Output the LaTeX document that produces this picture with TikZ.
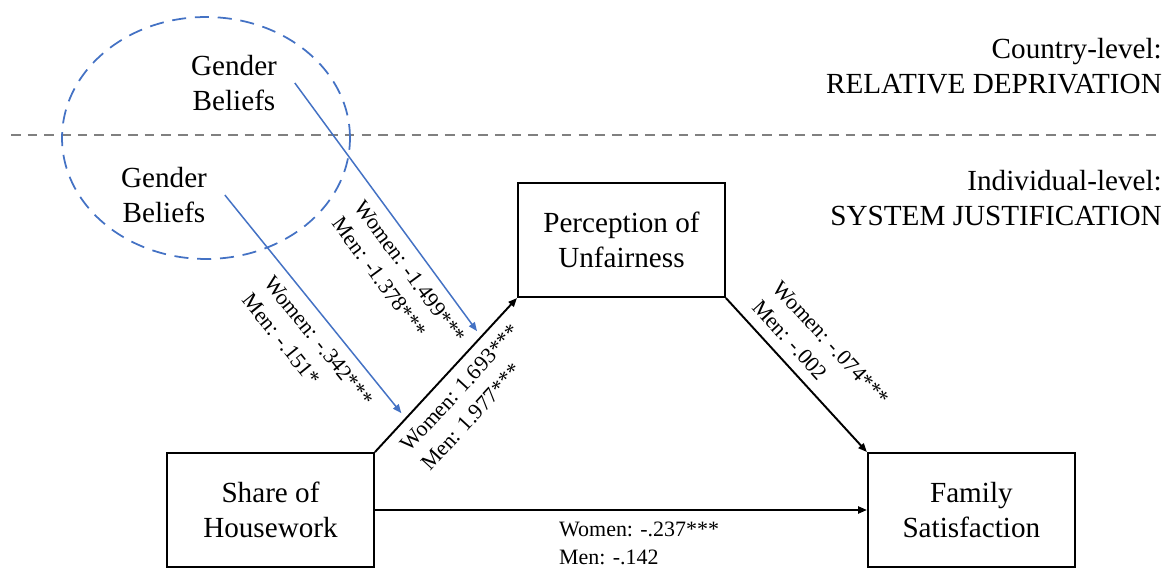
\documentclass[tikz,border=0pt]{standalone}
\usepackage{fontspec}
\setmainfont{Liberation Serif}
\usetikzlibrary{positioning,arrows.meta}

\definecolor{beliefblue}{RGB}{68,114,196}
\definecolor{levelgray}{RGB}{128,128,128}

\begin{document}
\begin{tikzpicture}[
	x=0.02cm, y=-0.02cm,
	on grid,
	auto,
	>={Triangle[length=5pt,width=4pt]},
	box/.style={
		rectangle,
		draw,
		line width=1.1pt,
		minimum width=4.14cm,
		minimum height=2.28cm,
		align=center,
		font=\fontsize{16.6}{20}\selectfont
	},
	belief/.style={
		align=center,
		inner sep=10pt,
		font=\fontsize{16.6}{20}\selectfont
	},
	level/.style={
		anchor=east,
		align=right,
		font=\fontsize{16.6}{20}\selectfont
	},
	lbl/.style={
		sloped,
		align=left,
		text=black,
		inner sep=6pt,
		font=\fontsize{12.5}{16}\selectfont
	},
	link/.style={->, line width=1.1pt},
	moder/.style={->, beliefblue, line width=0.85pt, shorten >=4pt}]

   \useasboundingbox (0,0) rectangle (1168,570);

   % levels
   \draw[levelgray, dash pattern=on 5.5pt off 4pt, line width=0.8pt] (11,135) -- (1160,135);
   \draw[beliefblue, dash pattern=on 8pt off 5pt, line width=1pt] (206,138) ellipse [x radius=2.88cm, y radius=2.42cm];

   \node[level] (country) at (1168,66) {Country-level:\\RELATIVE DEPRIVATION};
   \node[level] (indiv) at (1168,198) {Individual-level:\\SYSTEM JUSTIFICATION};

   \node[belief] (gb_1) at (234,83) {Gender\\Beliefs};
   \node[belief] (gb_2) at (164,195) {Gender\\Beliefs};

   \node[box] (share) at (270.5,510) {Share of\\Housework};
   \node[box, above right=5.4cm and 7.02cm of share] (unfair) {Perception of\\Unfairness};
   \node[box, right=14.02cm of share] (famsat) {Family\\Satisfaction};

   \draw[link] (share.north east) -- node[lbl, swap] (l_1) {Women: 1.693***\\Men: 1.977***}
    coordinate[pos=0.748] (m_1) coordinate[pos=0.217] (m_2) (unfair.south west);
   \path[link]
    (unfair.south east) edge node[lbl] (l_2) {Women: -.074***\\Men: -.002} (famsat.north west)
    (share.east) edge node[lbl, swap, pos=0.537] (l_3) {Women: -.237***\\Men: -.142} (famsat.west);

   \draw[moder] (gb_1.east) -- node[lbl, swap, pos=0.70] (l_4) {Women: -1.499***\\Men: -1.378***} (m_1);
   \draw[moder] (gb_2.east) -- node[lbl, swap, pos=0.60] (l_5) {Women: -.342***\\Men: -.151*} (m_2);
\end{tikzpicture}
\end{document}
